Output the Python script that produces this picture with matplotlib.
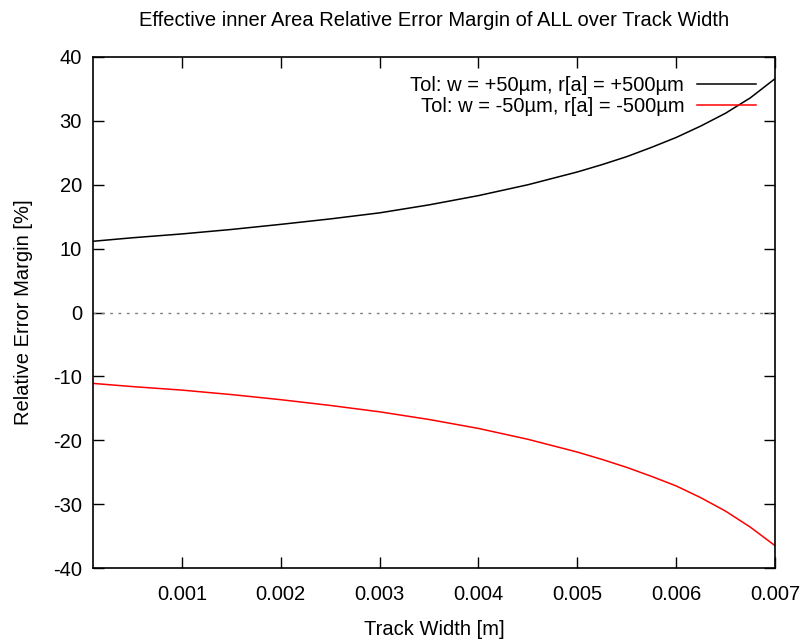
import matplotlib
matplotlib.use('Agg')
import matplotlib.pyplot as plt

plt.rcParams['font.family'] = ['Liberation Sans', 'DejaVu Sans']
plt.rcParams['axes.unicode_minus'] = False

# values
track_width = [0.0001, 0.0005, 0.001, 0.0015, 0.002, 0.0025, 0.003, 0.0035,
               0.004, 0.0045, 0.005, 0.00525, 0.0055, 0.00575, 0.006,
               0.00625, 0.0065, 0.00675, 0.007]
err_plus = [11.15, 11.7, 12.3, 13.0, 13.8, 14.65, 15.6, 16.85,
            18.3, 20.0, 22.0, 23.15, 24.4, 25.85, 27.4,
            29.2, 31.2, 33.6, 36.6]
err_minus = [-11.1, -11.6, -12.15, -12.85, -13.65, -14.55, -15.55, -16.75,
             -18.15, -19.85, -21.85, -23.0, -24.25, -25.65, -27.15,
             -29.0, -31.1, -33.6, -36.5]
labels = ['Tol: w = +50µm, r[a] = +500µm', 'Tol: w = -50µm, r[a] = -500µm']
xticks = [0.001, 0.002, 0.003, 0.004, 0.005, 0.006, 0.007]
yticks = [-40, -30, -20, -10, 0, 10, 20, 30, 40]

fs = 14.5

fig = plt.figure(figsize=(8.04, 6.42), dpi=100)
ax = fig.add_axes([93 / 804, 1 - 568 / 642, (775 - 93) / 804, (568 - 57) / 642])

ax.axhline(0, color='#808080', lw=1, ls=(0, (2, 4)))
ax.plot(track_width, err_plus, color='black', lw=1.1, label=labels[0])
ax.plot(track_width, err_minus, color='red', lw=1.1, label=labels[1])

ax.set_xlim(0.0001, 0.007)
ax.set_ylim(-40, 40)
ax.set_xticks(xticks)
ax.set_xticklabels(['%.3f' % t for t in xticks])
ax.set_yticks(yticks)
ax.tick_params(direction='in', length=8, width=1, top=True, right=True,
               labelsize=fs)
ax.tick_params(axis='x', pad=12)
ax.tick_params(axis='y', pad=8)
for s in ax.spines.values():
    s.set_linewidth(1.2)

ax.set_xlabel('Track Width [m]', fontsize=fs, labelpad=12)
ax.set_ylabel('Relative Error Margin [%]', fontsize=fs, labelpad=14)
ax.set_title('Effective inner Area Relative Error Margin of ALL over Track Width',
             fontsize=fs, pad=22)

ax.legend(loc='upper right', frameon=False, markerfirst=False, fontsize=fs,
          handlelength=2.9, labelspacing=0.1, borderaxespad=0.75,
          borderpad=0.2, handletextpad=0.65)

fig.savefig('out.png', dpi=100)
